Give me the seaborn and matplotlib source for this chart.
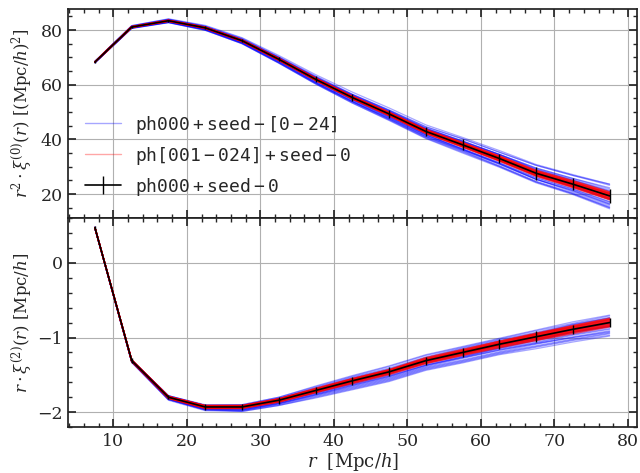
import matplotlib
matplotlib.use("Agg")
import matplotlib.pyplot as plt
from matplotlib.ticker import AutoMinorLocator, MultipleLocator
from matplotlib.lines import Line2D
import numpy as np
import pandas as pd
import seaborn as sns

# separation bins [Mpc/h]
r = [7.5, 12.5, 17.5, 22.5, 27.5, 32.5, 37.5, 42.5, 47.5, 52.5, 57.5, 62.5, 67.5, 72.5, 77.5]

# ph000 + seed-0 (reference, with error bars)
xi0_ref = [68.3, 81.1, 83.4, 80.8, 76.1, 69.3, 62.0, 55.3, 49.3, 42.9, 38.0, 33.0, 27.6, 23.6, 19.3]
xi0_err = [0.3, 0.3, 0.4, 0.5, 0.6, 0.8, 1.0, 1.2, 1.5, 1.7, 2.0, 1.8, 2.3, 2.3, 2.5]
xi2_ref = [0.47, -1.31, -1.80, -1.93, -1.93, -1.84, -1.71, -1.58, -1.46, -1.31, -1.20, -1.09, -0.99, -0.89, -0.80]
xi2_err = [0.03, 0.03, 0.03, 0.035, 0.04, 0.045, 0.05, 0.055, 0.06, 0.055, 0.062, 0.067, 0.073, 0.062, 0.062]

# ph000 + seed-[0-24]
xi0_seeds = [
    xi0_ref,
    [68.6, 81.6, 84.1, 81.7, 77.2, 70.7, 63.7, 57.3, 51.5, 45.3, 40.7, 35.9, 30.8, 27.1, 23.6],
    [68.0, 80.6, 82.7, 79.9, 75.0, 67.9, 60.3, 53.3, 47.1, 40.5, 35.3, 30.1, 24.4, 20.1, 15.0],
    [68.4, 81.3, 83.7, 81.2, 76.6, 70.0, 62.8, 56.3, 50.4, 44.1, 39.3, 34.4, 29.2, 25.3, 21.4],
    [68.1, 80.8, 83.0, 80.3, 75.5, 68.6, 61.1, 54.3, 48.2, 41.7, 36.6, 31.5, 26.0, 21.8, 17.1],
    [68.4, 81.2, 83.4, 80.7, 75.9, 68.9, 61.5, 54.5, 48.2, 41.7, 36.4, 31.0, 25.4, 20.8, 15.9],
    [68.1, 80.9, 83.1, 80.5, 75.9, 69.2, 62.0, 55.5, 49.7, 43.6, 39.1, 34.5, 29.5, 25.7, 22.3],
    [68.2, 81.0, 83.3, 80.6, 75.9, 69.0, 61.7, 54.9, 48.9, 42.4, 37.5, 32.4, 27.0, 22.9, 18.4],
    [68.5, 81.5, 83.9, 81.3, 76.7, 70.0, 62.7, 56.3, 50.6, 44.6, 40.2, 35.3, 30.5, 26.8, 23.2],
    [68.1, 80.7, 82.8, 80.0, 75.0, 67.9, 60.3, 53.3, 46.9, 40.3, 35.0, 29.8, 24.1, 19.8, 14.6],
    [68.3, 81.2, 83.5, 80.8, 76.2, 69.6, 62.2, 55.3, 49.1, 42.7, 38.0, 33.3, 27.6, 23.3, 18.4],
    [68.2, 80.9, 83.0, 80.4, 75.4, 68.5, 60.8, 53.9, 47.5, 41.0, 35.8, 30.4, 24.7, 20.4, 15.4],
    [68.4, 81.3, 83.7, 81.2, 76.7, 70.0, 63.0, 56.5, 50.8, 44.6, 40.2, 35.3, 30.5, 26.8, 23.6],
    [68.1, 80.8, 82.9, 80.2, 75.3, 68.3, 60.8, 53.9, 47.8, 41.2, 36.1, 31.0, 25.4, 21.2, 16.3],
    [68.5, 81.4, 83.8, 81.2, 76.4, 69.6, 62.3, 55.5, 49.3, 42.7, 37.7, 32.4, 27.0, 22.6, 18.0],
    [68.2, 81.0, 83.2, 80.5, 75.8, 68.9, 61.5, 54.7, 48.6, 42.2, 37.2, 32.1, 26.6, 22.6, 18.0],
    [68.0, 80.7, 82.8, 80.1, 75.2, 68.2, 60.8, 53.9, 47.8, 41.5, 36.4, 31.3, 26.0, 21.9, 17.2],
    [68.4, 81.2, 83.5, 81.0, 76.3, 69.6, 62.3, 55.7, 49.7, 43.4, 38.5, 33.6, 28.2, 24.3, 20.2],
    [68.0, 80.6, 82.7, 79.9, 75.1, 68.0, 60.5, 53.7, 47.5, 41.0, 36.1, 31.0, 25.4, 21.5, 16.7],
    [68.6, 81.6, 84.0, 81.5, 77.0, 70.3, 63.2, 56.5, 50.6, 44.1, 39.4, 34.5, 28.9, 25.0, 21.0],
    [68.1, 80.8, 82.9, 80.2, 75.3, 68.2, 60.6, 53.7, 47.3, 40.7, 35.6, 30.1, 24.4, 20.1, 15.0],
    [68.3, 81.1, 83.5, 80.9, 76.3, 69.6, 62.5, 55.9, 50.2, 43.9, 39.4, 34.5, 29.5, 25.7, 21.9],
    [68.3, 81.0, 83.3, 80.6, 75.8, 68.9, 61.3, 54.5, 48.2, 41.7, 36.4, 31.3, 25.4, 21.2, 16.3],
    [68.4, 81.3, 83.7, 81.2, 76.5, 69.9, 62.7, 56.1, 50.2, 43.9, 39.1, 34.2, 28.9, 25.0, 21.0],
    [68.2, 80.9, 83.1, 80.4, 75.8, 68.9, 61.7, 54.9, 49.1, 42.7, 38.0, 33.0, 27.9, 24.0, 20.2],
]
xi2_seeds = [
    xi2_ref,
    [0.48, -1.30, -1.78, -1.90, -1.90, -1.80, -1.65, -1.51, -1.38, -1.23, -1.12, -1.01, -0.90, -0.79, -0.70],
    [0.46, -1.33, -1.84, -1.98, -1.99, -1.91, -1.81, -1.70, -1.59, -1.44, -1.34, -1.23, -1.15, -1.06, -0.98],
    [0.47, -1.30, -1.79, -1.92, -1.92, -1.82, -1.69, -1.55, -1.43, -1.28, -1.16, -1.05, -0.95, -0.85, -0.76],
    [0.47, -1.32, -1.82, -1.95, -1.96, -1.87, -1.75, -1.63, -1.52, -1.37, -1.26, -1.15, -1.06, -0.96, -0.88],
    [0.46, -1.33, -1.83, -1.97, -1.98, -1.89, -1.78, -1.67, -1.56, -1.41, -1.31, -1.20, -1.11, -1.02, -0.94],
    [0.48, -1.30, -1.78, -1.91, -1.91, -1.81, -1.67, -1.53, -1.41, -1.26, -1.14, -1.03, -0.93, -0.82, -0.73],
    [0.47, -1.31, -1.81, -1.94, -1.94, -1.85, -1.73, -1.60, -1.48, -1.33, -1.22, -1.11, -1.02, -0.92, -0.83],
    [0.47, -1.31, -1.80, -1.93, -1.92, -1.83, -1.70, -1.56, -1.44, -1.30, -1.19, -1.08, -0.98, -0.88, -0.79],
    [0.46, -1.32, -1.82, -1.96, -1.97, -1.88, -1.77, -1.65, -1.54, -1.39, -1.28, -1.17, -1.08, -0.99, -0.91],
    [0.46, -1.33, -1.83, -1.97, -1.98, -1.90, -1.79, -1.68, -1.57, -1.42, -1.32, -1.21, -1.12, -1.03, -0.95],
    [0.48, -1.30, -1.78, -1.91, -1.91, -1.82, -1.69, -1.56, -1.45, -1.31, -1.21, -1.10, -1.02, -0.93, -0.85],
    [0.47, -1.32, -1.81, -1.94, -1.94, -1.85, -1.72, -1.58, -1.46, -1.30, -1.18, -1.07, -0.95, -0.83, -0.74],
    [0.47, -1.32, -1.81, -1.94, -1.95, -1.86, -1.73, -1.61, -1.49, -1.34, -1.24, -1.13, -1.03, -0.93, -0.85],
    [0.47, -1.31, -1.79, -1.92, -1.92, -1.83, -1.69, -1.56, -1.44, -1.29, -1.18, -1.07, -0.96, -0.86, -0.77],
    [0.46, -1.33, -1.82, -1.96, -1.97, -1.89, -1.77, -1.66, -1.55, -1.40, -1.30, -1.19, -1.09, -1.00, -0.92],
    [0.46, -1.32, -1.82, -1.95, -1.96, -1.88, -1.76, -1.64, -1.53, -1.38, -1.27, -1.16, -1.07, -0.97, -0.89],
    [0.47, -1.31, -1.80, -1.94, -1.94, -1.86, -1.74, -1.62, -1.51, -1.37, -1.27, -1.17, -1.08, -1.00, -0.93],
    [0.46, -1.33, -1.83, -1.97, -1.99, -1.91, -1.80, -1.69, -1.58, -1.43, -1.33, -1.22, -1.13, -1.04, -0.97],
    [0.47, -1.30, -1.79, -1.91, -1.91, -1.82, -1.68, -1.54, -1.42, -1.27, -1.15, -1.04, -0.94, -0.83, -0.74],
    [0.47, -1.31, -1.80, -1.93, -1.94, -1.85, -1.72, -1.59, -1.47, -1.32, -1.21, -1.10, -1.00, -0.90, -0.82],
    [0.46, -1.33, -1.83, -1.96, -1.97, -1.88, -1.76, -1.64, -1.52, -1.37, -1.26, -1.14, -1.04, -0.93, -0.85],
    [0.47, -1.31, -1.81, -1.93, -1.93, -1.84, -1.71, -1.57, -1.46, -1.31, -1.20, -1.10, -0.99, -0.90, -0.81],
    [0.47, -1.32, -1.81, -1.95, -1.95, -1.86, -1.74, -1.62, -1.50, -1.35, -1.25, -1.14, -1.04, -0.95, -0.86],
    [0.48, -1.30, -1.78, -1.91, -1.90, -1.80, -1.66, -1.52, -1.39, -1.24, -1.13, -1.02, -0.91, -0.81, -0.71],
]

# ph[001-024] + seed-0
xi0_phases = [
    [68.4, 81.3, 83.6, 81.1, 76.4, 69.7, 62.5, 55.9, 50.0, 43.7, 38.9, 34.0, 28.7, 24.9, 20.8],
    [68.2, 80.9, 83.2, 80.5, 75.8, 68.9, 61.5, 54.7, 48.6, 42.1, 37.1, 32.0, 26.5, 22.3, 17.8],
    [68.4, 81.2, 83.6, 81.0, 76.3, 69.6, 62.4, 55.8, 49.9, 43.5, 38.7, 33.8, 28.5, 24.6, 20.5],
    [68.2, 81.0, 83.2, 80.6, 75.9, 69.0, 61.6, 54.8, 48.7, 42.3, 37.3, 32.2, 26.7, 22.6, 18.1],
    [68.4, 81.2, 83.5, 81.0, 76.3, 69.5, 62.3, 55.7, 49.7, 43.4, 38.5, 33.6, 28.3, 24.4, 20.2],
    [68.2, 81.0, 83.3, 80.7, 75.9, 69.1, 61.7, 54.9, 48.9, 42.4, 37.5, 32.4, 26.9, 22.8, 18.4],
    [68.3, 81.2, 83.5, 80.9, 76.2, 69.5, 62.2, 55.5, 49.6, 43.2, 38.4, 33.4, 28.0, 24.1, 19.9],
    [68.3, 81.0, 83.3, 80.7, 76.0, 69.1, 61.8, 55.1, 49.0, 42.6, 37.6, 32.6, 27.2, 23.1, 18.7],
    [68.3, 81.1, 83.4, 80.9, 76.2, 69.4, 62.1, 55.4, 49.4, 43.1, 38.2, 33.2, 27.8, 23.9, 19.6],
    [68.3, 81.1, 83.4, 80.8, 76.0, 69.2, 61.9, 55.2, 49.2, 42.7, 37.8, 32.8, 27.4, 23.3, 19.0],
    [68.3, 81.1, 83.4, 80.8, 76.1, 69.3, 62.0, 55.4, 49.3, 42.8, 38.1, 33.0, 27.5, 23.7, 19.3],
    [68.4, 81.2, 83.6, 81.0, 76.4, 69.7, 62.5, 55.8, 49.9, 43.6, 38.8, 33.9, 28.6, 24.8, 20.7],
    [68.2, 81.0, 83.2, 80.6, 75.8, 68.9, 61.6, 54.8, 48.7, 42.2, 37.2, 32.1, 26.6, 22.4, 18.0],
    [68.4, 81.2, 83.5, 81.0, 76.3, 69.6, 62.4, 55.7, 49.8, 43.5, 38.6, 33.7, 28.4, 24.5, 20.4],
    [68.2, 81.0, 83.3, 80.6, 75.9, 69.0, 61.7, 54.9, 48.8, 42.3, 37.4, 32.3, 26.8, 22.7, 18.3],
    [68.4, 81.2, 83.5, 80.9, 76.3, 69.5, 62.3, 55.6, 49.7, 43.3, 38.5, 33.5, 28.2, 24.3, 20.1],
    [68.3, 81.0, 83.3, 80.7, 76.0, 69.1, 61.8, 55.0, 49.0, 42.5, 37.6, 32.5, 27.1, 23.0, 18.6],
    [68.3, 81.1, 83.5, 80.9, 76.2, 69.4, 62.2, 55.5, 49.5, 43.1, 38.3, 33.3, 27.9, 24.0, 19.8],
    [68.3, 81.1, 83.3, 80.7, 76.0, 69.2, 61.9, 55.1, 49.1, 42.7, 37.7, 32.7, 27.3, 23.2, 18.9],
    [68.3, 81.1, 83.4, 80.8, 76.1, 69.3, 62.1, 55.4, 49.4, 43.0, 38.1, 33.1, 27.7, 23.7, 19.5],
    [68.3, 81.1, 83.4, 80.8, 76.1, 69.3, 62.0, 55.2, 49.2, 42.8, 37.9, 32.9, 27.5, 23.5, 19.2],
    [68.4, 81.2, 83.5, 80.9, 76.2, 69.4, 62.0, 55.3, 49.2, 42.7, 37.7, 32.6, 27.1, 23.0, 18.4],
    [68.3, 81.0, 83.3, 80.7, 76.0, 69.2, 62.0, 55.3, 49.4, 43.0, 38.2, 33.3, 28.0, 24.2, 20.1],
    [68.4, 81.2, 83.5, 80.9, 76.2, 69.4, 62.1, 55.4, 49.5, 43.0, 38.2, 33.2, 27.8, 23.8, 19.7],
]
xi2_phases = [
    [0.48, -1.30, -1.79, -1.91, -1.91, -1.82, -1.68, -1.55, -1.43, -1.27, -1.16, -1.05, -0.94, -0.84, -0.74],
    [0.47, -1.32, -1.82, -1.95, -1.95, -1.87, -1.74, -1.62, -1.50, -1.35, -1.24, -1.14, -1.04, -0.95, -0.86],
    [0.47, -1.30, -1.79, -1.91, -1.91, -1.82, -1.69, -1.55, -1.43, -1.28, -1.17, -1.05, -0.95, -0.85, -0.75],
    [0.47, -1.32, -1.81, -1.95, -1.95, -1.86, -1.73, -1.61, -1.49, -1.34, -1.23, -1.13, -1.03, -0.93, -0.85],
    [0.47, -1.30, -1.79, -1.92, -1.92, -1.83, -1.69, -1.56, -1.44, -1.29, -1.18, -1.06, -0.96, -0.86, -0.76],
    [0.47, -1.32, -1.81, -1.94, -1.94, -1.86, -1.73, -1.60, -1.48, -1.33, -1.22, -1.12, -1.02, -0.92, -0.84],
    [0.47, -1.31, -1.79, -1.92, -1.92, -1.83, -1.70, -1.57, -1.45, -1.29, -1.18, -1.07, -0.97, -0.87, -0.78],
    [0.47, -1.31, -1.81, -1.94, -1.94, -1.85, -1.72, -1.59, -1.47, -1.33, -1.22, -1.11, -1.01, -0.91, -0.82],
    [0.47, -1.31, -1.80, -1.93, -1.93, -1.84, -1.70, -1.57, -1.45, -1.30, -1.19, -1.08, -0.98, -0.88, -0.79],
    [0.47, -1.31, -1.80, -1.93, -1.93, -1.85, -1.72, -1.59, -1.47, -1.32, -1.21, -1.10, -1.00, -0.90, -0.81],
    [0.47, -1.31, -1.80, -1.93, -1.93, -1.84, -1.71, -1.58, -1.46, -1.31, -1.20, -1.09, -0.99, -0.89, -0.80],
    [0.47, -1.30, -1.79, -1.91, -1.91, -1.82, -1.68, -1.55, -1.43, -1.27, -1.16, -1.05, -0.95, -0.84, -0.75],
    [0.47, -1.32, -1.81, -1.95, -1.95, -1.86, -1.74, -1.61, -1.49, -1.35, -1.24, -1.13, -1.04, -0.94, -0.85],
    [0.47, -1.30, -1.79, -1.92, -1.92, -1.82, -1.69, -1.56, -1.44, -1.28, -1.17, -1.06, -0.95, -0.85, -0.76],
    [0.47, -1.32, -1.81, -1.94, -1.94, -1.86, -1.73, -1.60, -1.48, -1.34, -1.23, -1.12, -1.03, -0.93, -0.84],
    [0.47, -1.30, -1.79, -1.92, -1.92, -1.83, -1.70, -1.56, -1.44, -1.29, -1.18, -1.07, -0.96, -0.86, -0.77],
    [0.47, -1.32, -1.81, -1.94, -1.94, -1.85, -1.73, -1.60, -1.48, -1.33, -1.22, -1.11, -1.02, -0.92, -0.83],
    [0.47, -1.31, -1.80, -1.92, -1.92, -1.83, -1.70, -1.57, -1.45, -1.30, -1.19, -1.08, -0.97, -0.87, -0.78],
    [0.47, -1.31, -1.80, -1.94, -1.94, -1.85, -1.72, -1.59, -1.47, -1.32, -1.21, -1.10, -1.01, -0.91, -0.82],
    [0.47, -1.31, -1.80, -1.93, -1.93, -1.84, -1.71, -1.58, -1.46, -1.31, -1.20, -1.09, -0.98, -0.88, -0.79],
    [0.47, -1.31, -1.80, -1.93, -1.93, -1.84, -1.71, -1.58, -1.46, -1.31, -1.20, -1.10, -1.00, -0.90, -0.81],
    [0.47, -1.30, -1.79, -1.92, -1.92, -1.83, -1.70, -1.58, -1.46, -1.31, -1.21, -1.10, -1.01, -0.92, -0.84],
    [0.47, -1.32, -1.81, -1.94, -1.94, -1.85, -1.71, -1.58, -1.46, -1.31, -1.19, -1.07, -0.96, -0.86, -0.76],
    [0.47, -1.31, -1.80, -1.93, -1.92, -1.83, -1.71, -1.57, -1.45, -1.30, -1.19, -1.08, -0.98, -0.88, -0.79],
]

lab_seeds = r'$\mathtt{ph000+seed-[0-24]}$'
lab_phases = r'$\mathtt{ph[001-024]+seed-0}$'
lab_ref = r'$\mathtt{ph000+seed-0}$'


def to_long(curves):
    rows = []
    for k, vals in enumerate(curves):
        for x, y in zip(r, vals):
            rows.append((k, x, y))
    return pd.DataFrame(rows, columns=['run', 'r', 'y'])


sns.set_theme(style='ticks')
plt.rcParams['font.family'] = ['DejaVu Serif']
plt.rcParams['mathtext.fontset'] = 'dejavuserif'
plt.rcParams['xtick.direction'] = 'in'
plt.rcParams['ytick.direction'] = 'in'
plt.rcParams['xtick.top'] = True
plt.rcParams['ytick.right'] = True

fig, (ax0, ax2) = plt.subplots(2, 1, figsize=(6.4, 4.73), dpi=100, sharex=True)
fig.subplots_adjust(left=0.107, right=0.995, top=0.981, bottom=0.097, hspace=0)

panels = [(ax0, xi0_seeds, xi0_phases, xi0_ref, xi0_err),
          (ax2, xi2_seeds, xi2_phases, xi2_ref, xi2_err)]
for ax, seeds, phases, ref, err in panels:
    sns.lineplot(data=to_long(seeds), x='r', y='y', units='run', estimator=None,
                 color='blue', alpha=0.35, lw=0.9, ax=ax)
    sns.lineplot(data=to_long(phases), x='r', y='y', units='run', estimator=None,
                 color='red', alpha=0.45, lw=1.0, ax=ax)
    ax.errorbar(r, ref, yerr=err, color='black', lw=1.2, elinewidth=1.0, zorder=5)
    ax.grid(True, color='#b0b0b0', lw=0.8)
    ax.xaxis.set_minor_locator(AutoMinorLocator(5))
    ax.tick_params(which='major', length=6, labelsize=12.5, pad=4)
    ax.tick_params(which='minor', length=3)
    for s in ax.spines.values():
        s.set_color('#222222')

ax0.yaxis.set_major_locator(MultipleLocator(20))
ax0.yaxis.set_minor_locator(MultipleLocator(5))
ax2.yaxis.set_major_locator(MultipleLocator(1))
ax2.yaxis.set_minor_locator(MultipleLocator(0.2))
ax0.set_ylim(11.2, 87.7)
ax2.set_ylim(-2.2, 0.6)
ax2.set_xlim(3.9, 81.2)
ax0.set_xlabel('')
ax0.set_ylabel(r'$r^2\cdot\xi^{(0)}(r)\ [(\mathrm{Mpc}/h)^2]$', fontsize=12, labelpad=2)
ax2.set_ylabel(r'$r\cdot\xi^{(2)}(r)\ [\mathrm{Mpc}/h]$', fontsize=12, labelpad=2)
ax2.set_xlabel(r'$r\ \ [\mathrm{Mpc}/h]$', fontsize=13, labelpad=1)

handles = [Line2D([], [], color='blue', alpha=0.35, lw=1),
           Line2D([], [], color='red', alpha=0.35, lw=1),
           ax0.containers[0]]
ax0.legend(handles, [lab_seeds, lab_phases, lab_ref], loc='lower left',
           bbox_to_anchor=(0.0, 0.02), frameon=False, fontsize=13,
           handlelength=2.0)
fig.align_ylabels([ax0, ax2])

fig.savefig('out.png', dpi=100)
